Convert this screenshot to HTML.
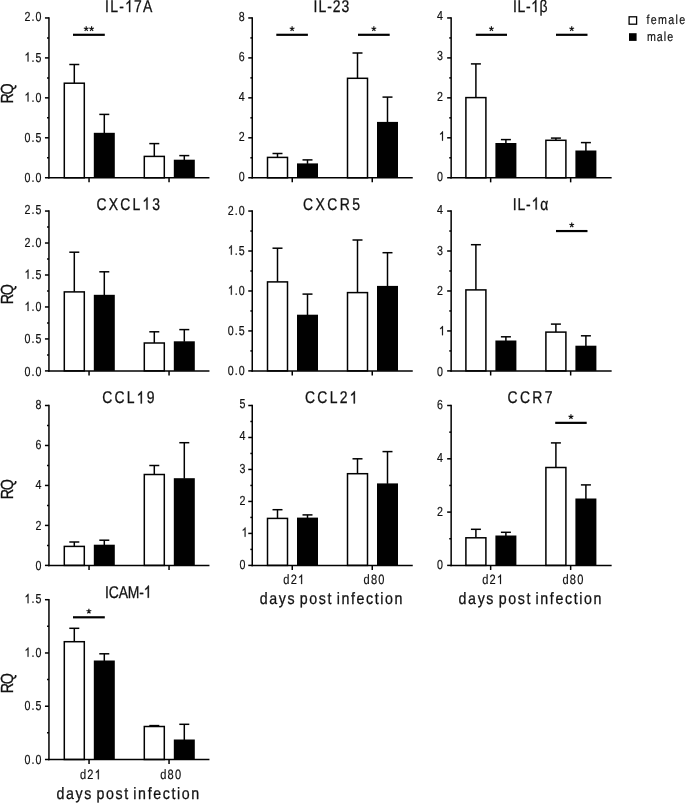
<!DOCTYPE html>
<html><head><meta charset="utf-8"><title>Figure</title>
<style>
html,body{margin:0;padding:0;background:#fff;}
body{width:685px;height:803px;overflow:hidden;}
svg{display:block;font-family:"Liberation Sans",sans-serif;font-kerning:none;text-rendering:geometricPrecision;}
text{stroke:#111;stroke-width:0.2px;}
</style></head><body>
<svg width="685" height="803" viewBox="0 0 685 803">
<rect x="0" y="0" width="685" height="803" fill="#fff"/>
<g style="opacity:0.999">
<line x1="74.30" y1="64.50" x2="74.30" y2="83.20" stroke="#000" stroke-width="1.5"/>
<line x1="69.30" y1="64.50" x2="79.30" y2="64.50" stroke="#000" stroke-width="1.5"/>
<rect x="64.30" y="83.20" width="20.00" height="94.55" fill="#fff" stroke="#000" stroke-width="1.5"/>
<line x1="104.30" y1="114.40" x2="104.30" y2="133.30" stroke="#000" stroke-width="1.5"/>
<line x1="99.30" y1="114.40" x2="109.30" y2="114.40" stroke="#000" stroke-width="1.5"/>
<rect x="93.80" y="132.80" width="21.00" height="44.95" fill="#000"/>
<line x1="154.30" y1="143.60" x2="154.30" y2="156.40" stroke="#000" stroke-width="1.5"/>
<line x1="149.30" y1="143.60" x2="159.30" y2="143.60" stroke="#000" stroke-width="1.5"/>
<rect x="144.30" y="156.40" width="20.00" height="21.35" fill="#fff" stroke="#000" stroke-width="1.5"/>
<line x1="184.30" y1="155.60" x2="184.30" y2="160.20" stroke="#000" stroke-width="1.5"/>
<line x1="179.30" y1="155.60" x2="189.30" y2="155.60" stroke="#000" stroke-width="1.5"/>
<rect x="173.80" y="159.70" width="21.00" height="18.05" fill="#000"/>
<line x1="48.95" y1="17.20" x2="48.95" y2="178.50" stroke="#000" stroke-width="1.5"/>
<line x1="48.20" y1="177.75" x2="209.45" y2="177.75" stroke="#000" stroke-width="1.5"/>
<line x1="89.05" y1="177.75" x2="89.05" y2="182.35" stroke="#000" stroke-width="1.5"/>
<line x1="169.05" y1="177.75" x2="169.05" y2="182.35" stroke="#000" stroke-width="1.5"/>
<line x1="44.95" y1="17.95" x2="48.95" y2="17.95" stroke="#000" stroke-width="1.5"/>
<line x1="47.05" y1="37.92" x2="48.95" y2="37.92" stroke="#000" stroke-width="1.5"/>
<text transform="translate(24.53,21.45) scale(0.82,1)" font-size="13" letter-spacing="1.220" word-spacing="0.000" fill="#111">2.0</text>
<line x1="44.95" y1="57.90" x2="48.95" y2="57.90" stroke="#000" stroke-width="1.5"/>
<line x1="47.05" y1="77.88" x2="48.95" y2="77.88" stroke="#000" stroke-width="1.5"/>
<path transform="translate(24.53,61.53) scale(0.005205,-0.006348)" d="M763 0H583V1147Q518 1085 412.5 1023T223 930V1104Q373 1174.5 485.5 1275T644 1470H763Z" fill="#111" stroke="#111" stroke-width="0.2" vector-effect="non-scaling-stroke"/>
<text transform="translate(31.46,61.53) scale(0.82,1)" font-size="13" letter-spacing="1.220" word-spacing="0.000" fill="#111">.5</text>
<line x1="44.95" y1="97.85" x2="48.95" y2="97.85" stroke="#000" stroke-width="1.5"/>
<line x1="47.05" y1="117.83" x2="48.95" y2="117.83" stroke="#000" stroke-width="1.5"/>
<path transform="translate(24.53,101.60) scale(0.005205,-0.006348)" d="M763 0H583V1147Q518 1085 412.5 1023T223 930V1104Q373 1174.5 485.5 1275T644 1470H763Z" fill="#111" stroke="#111" stroke-width="0.2" vector-effect="non-scaling-stroke"/>
<text transform="translate(31.46,101.60) scale(0.82,1)" font-size="13" letter-spacing="1.220" word-spacing="0.000" fill="#111">.0</text>
<line x1="44.95" y1="137.80" x2="48.95" y2="137.80" stroke="#000" stroke-width="1.5"/>
<line x1="47.05" y1="157.78" x2="48.95" y2="157.78" stroke="#000" stroke-width="1.5"/>
<text transform="translate(24.53,141.68) scale(0.82,1)" font-size="13" letter-spacing="1.220" word-spacing="0.000" fill="#111">0.5</text>
<line x1="44.95" y1="177.75" x2="48.95" y2="177.75" stroke="#000" stroke-width="1.5"/>
<text transform="translate(24.53,181.75) scale(0.82,1)" font-size="13" letter-spacing="1.220" word-spacing="0.000" fill="#111">0.0</text>
<text transform="translate(105.00,12.10) scale(0.82,1)" font-size="17" letter-spacing="1.543" word-spacing="0.000" style="stroke-width:0.3px" fill="#111">IL-</text>
<path transform="translate(125.06,12.10) scale(0.006807,-0.008301)" d="M763 0H583V1147Q518 1085 412.5 1023T223 930V1104Q373 1174.5 485.5 1275T644 1470H763Z" fill="#111" stroke="#111" stroke-width="0.3" vector-effect="non-scaling-stroke"/>
<text transform="translate(134.08,12.10) scale(0.82,1)" font-size="17" letter-spacing="1.543" word-spacing="0.000" style="stroke-width:0.3px" fill="#111">7A</text>
<line x1="73.00" y1="34.80" x2="104.80" y2="34.80" stroke="#000" stroke-width="2.2"/>
<path d="M86.20 28.80L86.20 26.30M86.20 28.80L88.58 28.03M86.20 28.80L87.67 30.82M86.20 28.80L84.73 30.82M86.20 28.80L83.82 28.03" stroke="#111" stroke-width="1.15" fill="none"/>
<path d="M91.60 28.80L91.60 26.30M91.60 28.80L93.98 28.03M91.60 28.80L93.07 30.82M91.60 28.80L90.13 30.82M91.60 28.80L89.22 28.03" stroke="#111" stroke-width="1.15" fill="none"/>
<text transform="translate(13.00,103.60) rotate(-90) scale(0.82,1)" font-size="17.5" letter-spacing="-1.613" style="stroke-width:0.3px" fill="#111">RQ</text>
<line x1="277.50" y1="153.50" x2="277.50" y2="157.40" stroke="#000" stroke-width="1.5"/>
<line x1="272.50" y1="153.50" x2="282.50" y2="153.50" stroke="#000" stroke-width="1.5"/>
<rect x="267.50" y="157.40" width="20.00" height="20.35" fill="#fff" stroke="#000" stroke-width="1.5"/>
<line x1="307.50" y1="159.90" x2="307.50" y2="163.90" stroke="#000" stroke-width="1.5"/>
<line x1="302.50" y1="159.90" x2="312.50" y2="159.90" stroke="#000" stroke-width="1.5"/>
<rect x="297.00" y="163.40" width="21.00" height="14.35" fill="#000"/>
<line x1="357.50" y1="53.00" x2="357.50" y2="78.30" stroke="#000" stroke-width="1.5"/>
<line x1="352.50" y1="53.00" x2="362.50" y2="53.00" stroke="#000" stroke-width="1.5"/>
<rect x="347.50" y="78.30" width="20.00" height="99.45" fill="#fff" stroke="#000" stroke-width="1.5"/>
<line x1="387.50" y1="97.10" x2="387.50" y2="122.40" stroke="#000" stroke-width="1.5"/>
<line x1="382.50" y1="97.10" x2="392.50" y2="97.10" stroke="#000" stroke-width="1.5"/>
<rect x="377.00" y="121.90" width="21.00" height="55.85" fill="#000"/>
<line x1="252.25" y1="17.20" x2="252.25" y2="178.50" stroke="#000" stroke-width="1.5"/>
<line x1="251.50" y1="177.75" x2="412.75" y2="177.75" stroke="#000" stroke-width="1.5"/>
<line x1="292.25" y1="177.75" x2="292.25" y2="182.35" stroke="#000" stroke-width="1.5"/>
<line x1="372.25" y1="177.75" x2="372.25" y2="182.35" stroke="#000" stroke-width="1.5"/>
<line x1="248.25" y1="17.95" x2="252.25" y2="17.95" stroke="#000" stroke-width="1.5"/>
<line x1="250.35" y1="37.92" x2="252.25" y2="37.92" stroke="#000" stroke-width="1.5"/>
<text transform="translate(238.72,21.05) scale(0.82,1)" font-size="13" letter-spacing="0.000" word-spacing="0.000" fill="#111">8</text>
<line x1="248.25" y1="57.90" x2="252.25" y2="57.90" stroke="#000" stroke-width="1.5"/>
<line x1="250.35" y1="77.88" x2="252.25" y2="77.88" stroke="#000" stroke-width="1.5"/>
<text transform="translate(238.72,61.13) scale(0.82,1)" font-size="13" letter-spacing="0.000" word-spacing="0.000" fill="#111">6</text>
<line x1="248.25" y1="97.85" x2="252.25" y2="97.85" stroke="#000" stroke-width="1.5"/>
<line x1="250.35" y1="117.83" x2="252.25" y2="117.83" stroke="#000" stroke-width="1.5"/>
<text transform="translate(238.72,101.20) scale(0.82,1)" font-size="13" letter-spacing="0.000" word-spacing="0.000" fill="#111">4</text>
<line x1="248.25" y1="137.80" x2="252.25" y2="137.80" stroke="#000" stroke-width="1.5"/>
<line x1="250.35" y1="157.78" x2="252.25" y2="157.78" stroke="#000" stroke-width="1.5"/>
<text transform="translate(238.72,141.28) scale(0.82,1)" font-size="13" letter-spacing="0.000" word-spacing="0.000" fill="#111">2</text>
<line x1="248.25" y1="177.75" x2="252.25" y2="177.75" stroke="#000" stroke-width="1.5"/>
<text transform="translate(238.72,181.35) scale(0.82,1)" font-size="13" letter-spacing="0.000" word-spacing="0.000" fill="#111">0</text>
<text transform="translate(313.50,12.10) scale(0.82,1)" font-size="17" letter-spacing="1.228" word-spacing="0.000" style="stroke-width:0.3px" fill="#111">IL-23</text>
<line x1="276.30" y1="34.80" x2="307.90" y2="34.80" stroke="#000" stroke-width="2.2"/>
<path d="M292.10 28.80L292.10 26.30M292.10 28.80L294.48 28.03M292.10 28.80L293.57 30.82M292.10 28.80L290.63 30.82M292.10 28.80L289.72 28.03" stroke="#111" stroke-width="1.15" fill="none"/>
<line x1="358.00" y1="34.80" x2="389.70" y2="34.80" stroke="#000" stroke-width="2.2"/>
<path d="M373.85 28.80L373.85 26.30M373.85 28.80L376.23 28.03M373.85 28.80L375.32 30.82M373.85 28.80L372.38 30.82M373.85 28.80L371.47 28.03" stroke="#111" stroke-width="1.15" fill="none"/>
<line x1="475.90" y1="63.90" x2="475.90" y2="97.60" stroke="#000" stroke-width="1.5"/>
<line x1="470.90" y1="63.90" x2="480.90" y2="63.90" stroke="#000" stroke-width="1.5"/>
<rect x="465.90" y="97.60" width="20.00" height="80.15" fill="#fff" stroke="#000" stroke-width="1.5"/>
<line x1="505.90" y1="139.60" x2="505.90" y2="143.50" stroke="#000" stroke-width="1.5"/>
<line x1="500.90" y1="139.60" x2="510.90" y2="139.60" stroke="#000" stroke-width="1.5"/>
<rect x="495.40" y="143.00" width="21.00" height="34.75" fill="#000"/>
<line x1="555.90" y1="138.10" x2="555.90" y2="140.30" stroke="#000" stroke-width="1.5"/>
<line x1="550.90" y1="138.10" x2="560.90" y2="138.10" stroke="#000" stroke-width="1.5"/>
<rect x="545.90" y="140.30" width="20.00" height="37.45" fill="#fff" stroke="#000" stroke-width="1.5"/>
<line x1="585.90" y1="142.60" x2="585.90" y2="151.00" stroke="#000" stroke-width="1.5"/>
<line x1="580.90" y1="142.60" x2="590.90" y2="142.60" stroke="#000" stroke-width="1.5"/>
<rect x="575.40" y="150.50" width="21.00" height="27.25" fill="#000"/>
<line x1="451.15" y1="17.20" x2="451.15" y2="178.50" stroke="#000" stroke-width="1.5"/>
<line x1="450.40" y1="177.75" x2="611.65" y2="177.75" stroke="#000" stroke-width="1.5"/>
<line x1="490.65" y1="177.75" x2="490.65" y2="182.35" stroke="#000" stroke-width="1.5"/>
<line x1="570.65" y1="177.75" x2="570.65" y2="182.35" stroke="#000" stroke-width="1.5"/>
<line x1="447.15" y1="17.95" x2="451.15" y2="17.95" stroke="#000" stroke-width="1.5"/>
<line x1="449.25" y1="37.92" x2="451.15" y2="37.92" stroke="#000" stroke-width="1.5"/>
<text transform="translate(437.02,20.15) scale(0.82,1)" font-size="13" letter-spacing="0.000" word-spacing="0.000" fill="#111">4</text>
<line x1="447.15" y1="57.90" x2="451.15" y2="57.90" stroke="#000" stroke-width="1.5"/>
<line x1="449.25" y1="77.88" x2="451.15" y2="77.88" stroke="#000" stroke-width="1.5"/>
<text transform="translate(437.02,60.33) scale(0.82,1)" font-size="13" letter-spacing="0.000" word-spacing="0.000" fill="#111">3</text>
<line x1="447.15" y1="97.85" x2="451.15" y2="97.85" stroke="#000" stroke-width="1.5"/>
<line x1="449.25" y1="117.83" x2="451.15" y2="117.83" stroke="#000" stroke-width="1.5"/>
<text transform="translate(437.02,100.50) scale(0.82,1)" font-size="13" letter-spacing="0.000" word-spacing="0.000" fill="#111">2</text>
<line x1="447.15" y1="137.80" x2="451.15" y2="137.80" stroke="#000" stroke-width="1.5"/>
<line x1="449.25" y1="157.78" x2="451.15" y2="157.78" stroke="#000" stroke-width="1.5"/>
<path transform="translate(438.98,140.68) scale(0.005205,-0.006348)" d="M763 0H583V1147Q518 1085 412.5 1023T223 930V1104Q373 1174.5 485.5 1275T644 1470H763Z" fill="#111" stroke="#111" stroke-width="0.2" vector-effect="non-scaling-stroke"/>
<line x1="447.15" y1="177.75" x2="451.15" y2="177.75" stroke="#000" stroke-width="1.5"/>
<text transform="translate(437.02,180.85) scale(0.82,1)" font-size="13" letter-spacing="0.000" word-spacing="0.000" fill="#111">0</text>
<text transform="translate(513.10,12.10) scale(0.82,1)" font-size="17" letter-spacing="0.719" word-spacing="0.000" style="stroke-width:0.3px" fill="#111">IL-</text>
<path transform="translate(531.14,12.10) scale(0.006807,-0.008301)" d="M763 0H583V1147Q518 1085 412.5 1023T223 930V1104Q373 1174.5 485.5 1275T644 1470H763Z" fill="#111" stroke="#111" stroke-width="0.3" vector-effect="non-scaling-stroke"/>
<text transform="translate(539.48,12.10) scale(0.82,1)" font-size="17" letter-spacing="0.719" word-spacing="0.000" style="stroke-width:0.3px" fill="#111">β</text>
<line x1="475.80" y1="34.80" x2="507.00" y2="34.80" stroke="#000" stroke-width="2.2"/>
<path d="M491.40 28.80L491.40 26.30M491.40 28.80L493.78 28.03M491.40 28.80L492.87 30.82M491.40 28.80L489.93 30.82M491.40 28.80L489.02 28.03" stroke="#111" stroke-width="1.15" fill="none"/>
<line x1="556.00" y1="34.80" x2="587.50" y2="34.80" stroke="#000" stroke-width="2.2"/>
<path d="M571.75 28.80L571.75 26.30M571.75 28.80L574.13 28.03M571.75 28.80L573.22 30.82M571.75 28.80L570.28 30.82M571.75 28.80L569.37 28.03" stroke="#111" stroke-width="1.15" fill="none"/>
<line x1="74.30" y1="252.20" x2="74.30" y2="291.90" stroke="#000" stroke-width="1.5"/>
<line x1="69.30" y1="252.20" x2="79.30" y2="252.20" stroke="#000" stroke-width="1.5"/>
<rect x="64.30" y="291.90" width="20.00" height="79.00" fill="#fff" stroke="#000" stroke-width="1.5"/>
<line x1="104.30" y1="271.80" x2="104.30" y2="295.30" stroke="#000" stroke-width="1.5"/>
<line x1="99.30" y1="271.80" x2="109.30" y2="271.80" stroke="#000" stroke-width="1.5"/>
<rect x="93.80" y="294.80" width="21.00" height="76.10" fill="#000"/>
<line x1="154.30" y1="331.80" x2="154.30" y2="343.00" stroke="#000" stroke-width="1.5"/>
<line x1="149.30" y1="331.80" x2="159.30" y2="331.80" stroke="#000" stroke-width="1.5"/>
<rect x="144.30" y="343.00" width="20.00" height="27.90" fill="#fff" stroke="#000" stroke-width="1.5"/>
<line x1="184.30" y1="329.60" x2="184.30" y2="341.80" stroke="#000" stroke-width="1.5"/>
<line x1="179.30" y1="329.60" x2="189.30" y2="329.60" stroke="#000" stroke-width="1.5"/>
<rect x="173.80" y="341.30" width="21.00" height="29.60" fill="#000"/>
<line x1="48.95" y1="210.30" x2="48.95" y2="371.65" stroke="#000" stroke-width="1.5"/>
<line x1="48.20" y1="370.90" x2="209.45" y2="370.90" stroke="#000" stroke-width="1.5"/>
<line x1="89.05" y1="370.90" x2="89.05" y2="375.50" stroke="#000" stroke-width="1.5"/>
<line x1="169.05" y1="370.90" x2="169.05" y2="375.50" stroke="#000" stroke-width="1.5"/>
<line x1="44.95" y1="211.05" x2="48.95" y2="211.05" stroke="#000" stroke-width="1.5"/>
<line x1="47.05" y1="227.03" x2="48.95" y2="227.03" stroke="#000" stroke-width="1.5"/>
<text transform="translate(24.53,214.25) scale(0.82,1)" font-size="13" letter-spacing="1.220" word-spacing="0.000" fill="#111">2.5</text>
<line x1="44.95" y1="243.02" x2="48.95" y2="243.02" stroke="#000" stroke-width="1.5"/>
<line x1="47.05" y1="259.00" x2="48.95" y2="259.00" stroke="#000" stroke-width="1.5"/>
<text transform="translate(24.53,246.50) scale(0.82,1)" font-size="13" letter-spacing="1.220" word-spacing="0.000" fill="#111">2.0</text>
<line x1="44.95" y1="274.99" x2="48.95" y2="274.99" stroke="#000" stroke-width="1.5"/>
<line x1="47.05" y1="290.98" x2="48.95" y2="290.98" stroke="#000" stroke-width="1.5"/>
<path transform="translate(24.53,278.75) scale(0.005205,-0.006348)" d="M763 0H583V1147Q518 1085 412.5 1023T223 930V1104Q373 1174.5 485.5 1275T644 1470H763Z" fill="#111" stroke="#111" stroke-width="0.2" vector-effect="non-scaling-stroke"/>
<text transform="translate(31.46,278.75) scale(0.82,1)" font-size="13" letter-spacing="1.220" word-spacing="0.000" fill="#111">.5</text>
<line x1="44.95" y1="306.96" x2="48.95" y2="306.96" stroke="#000" stroke-width="1.5"/>
<line x1="47.05" y1="322.94" x2="48.95" y2="322.94" stroke="#000" stroke-width="1.5"/>
<path transform="translate(24.53,311.00) scale(0.005205,-0.006348)" d="M763 0H583V1147Q518 1085 412.5 1023T223 930V1104Q373 1174.5 485.5 1275T644 1470H763Z" fill="#111" stroke="#111" stroke-width="0.2" vector-effect="non-scaling-stroke"/>
<text transform="translate(31.46,311.00) scale(0.82,1)" font-size="13" letter-spacing="1.220" word-spacing="0.000" fill="#111">.0</text>
<line x1="44.95" y1="338.93" x2="48.95" y2="338.93" stroke="#000" stroke-width="1.5"/>
<line x1="47.05" y1="354.91" x2="48.95" y2="354.91" stroke="#000" stroke-width="1.5"/>
<text transform="translate(24.53,343.25) scale(0.82,1)" font-size="13" letter-spacing="1.220" word-spacing="0.000" fill="#111">0.5</text>
<line x1="44.95" y1="370.90" x2="48.95" y2="370.90" stroke="#000" stroke-width="1.5"/>
<text transform="translate(24.53,375.50) scale(0.82,1)" font-size="13" letter-spacing="1.220" word-spacing="0.000" fill="#111">0.0</text>
<text transform="translate(96.40,209.60) scale(0.82,1)" font-size="17" letter-spacing="2.686" word-spacing="0.000" style="stroke-width:0.3px" fill="#111">CXCL</text>
<path transform="translate(142.39,209.60) scale(0.006807,-0.008301)" d="M763 0H583V1147Q518 1085 412.5 1023T223 930V1104Q373 1174.5 485.5 1275T644 1470H763Z" fill="#111" stroke="#111" stroke-width="0.3" vector-effect="non-scaling-stroke"/>
<text transform="translate(152.35,209.60) scale(0.82,1)" font-size="17" letter-spacing="2.686" word-spacing="0.000" style="stroke-width:0.3px" fill="#111">3</text>
<text transform="translate(13.00,304.30) rotate(-90) scale(0.82,1)" font-size="17.5" letter-spacing="-1.613" style="stroke-width:0.3px" fill="#111">RQ</text>
<line x1="277.50" y1="248.20" x2="277.50" y2="281.90" stroke="#000" stroke-width="1.5"/>
<line x1="272.50" y1="248.20" x2="282.50" y2="248.20" stroke="#000" stroke-width="1.5"/>
<rect x="267.50" y="281.90" width="20.00" height="89.00" fill="#fff" stroke="#000" stroke-width="1.5"/>
<line x1="307.50" y1="294.10" x2="307.50" y2="315.20" stroke="#000" stroke-width="1.5"/>
<line x1="302.50" y1="294.10" x2="312.50" y2="294.10" stroke="#000" stroke-width="1.5"/>
<rect x="297.00" y="314.70" width="21.00" height="56.20" fill="#000"/>
<line x1="357.50" y1="240.00" x2="357.50" y2="292.60" stroke="#000" stroke-width="1.5"/>
<line x1="352.50" y1="240.00" x2="362.50" y2="240.00" stroke="#000" stroke-width="1.5"/>
<rect x="347.50" y="292.60" width="20.00" height="78.30" fill="#fff" stroke="#000" stroke-width="1.5"/>
<line x1="387.50" y1="252.70" x2="387.50" y2="286.40" stroke="#000" stroke-width="1.5"/>
<line x1="382.50" y1="252.70" x2="392.50" y2="252.70" stroke="#000" stroke-width="1.5"/>
<rect x="377.00" y="285.90" width="21.00" height="85.00" fill="#000"/>
<line x1="252.25" y1="210.30" x2="252.25" y2="371.65" stroke="#000" stroke-width="1.5"/>
<line x1="251.50" y1="370.90" x2="412.75" y2="370.90" stroke="#000" stroke-width="1.5"/>
<line x1="292.25" y1="370.90" x2="292.25" y2="375.50" stroke="#000" stroke-width="1.5"/>
<line x1="372.25" y1="370.90" x2="372.25" y2="375.50" stroke="#000" stroke-width="1.5"/>
<line x1="248.25" y1="211.05" x2="252.25" y2="211.05" stroke="#000" stroke-width="1.5"/>
<line x1="250.35" y1="231.03" x2="252.25" y2="231.03" stroke="#000" stroke-width="1.5"/>
<text transform="translate(227.83,214.55) scale(0.82,1)" font-size="13" letter-spacing="1.220" word-spacing="0.000" fill="#111">2.0</text>
<line x1="248.25" y1="251.01" x2="252.25" y2="251.01" stroke="#000" stroke-width="1.5"/>
<line x1="250.35" y1="270.99" x2="252.25" y2="270.99" stroke="#000" stroke-width="1.5"/>
<path transform="translate(227.83,254.64) scale(0.005205,-0.006348)" d="M763 0H583V1147Q518 1085 412.5 1023T223 930V1104Q373 1174.5 485.5 1275T644 1470H763Z" fill="#111" stroke="#111" stroke-width="0.2" vector-effect="non-scaling-stroke"/>
<text transform="translate(234.76,254.64) scale(0.82,1)" font-size="13" letter-spacing="1.220" word-spacing="0.000" fill="#111">.5</text>
<line x1="248.25" y1="290.98" x2="252.25" y2="290.98" stroke="#000" stroke-width="1.5"/>
<line x1="250.35" y1="310.96" x2="252.25" y2="310.96" stroke="#000" stroke-width="1.5"/>
<path transform="translate(227.83,294.73) scale(0.005205,-0.006348)" d="M763 0H583V1147Q518 1085 412.5 1023T223 930V1104Q373 1174.5 485.5 1275T644 1470H763Z" fill="#111" stroke="#111" stroke-width="0.2" vector-effect="non-scaling-stroke"/>
<text transform="translate(234.76,294.73) scale(0.82,1)" font-size="13" letter-spacing="1.220" word-spacing="0.000" fill="#111">.0</text>
<line x1="248.25" y1="330.94" x2="252.25" y2="330.94" stroke="#000" stroke-width="1.5"/>
<line x1="250.35" y1="350.92" x2="252.25" y2="350.92" stroke="#000" stroke-width="1.5"/>
<text transform="translate(227.83,334.81) scale(0.82,1)" font-size="13" letter-spacing="1.220" word-spacing="0.000" fill="#111">0.5</text>
<line x1="248.25" y1="370.90" x2="252.25" y2="370.90" stroke="#000" stroke-width="1.5"/>
<text transform="translate(227.83,374.90) scale(0.82,1)" font-size="13" letter-spacing="1.220" word-spacing="0.000" fill="#111">0.0</text>
<text transform="translate(302.90,209.60) scale(0.82,1)" font-size="17" letter-spacing="3.033" word-spacing="0.000" style="stroke-width:0.3px" fill="#111">CXCR5</text>
<line x1="475.90" y1="244.70" x2="475.90" y2="289.90" stroke="#000" stroke-width="1.5"/>
<line x1="470.90" y1="244.70" x2="480.90" y2="244.70" stroke="#000" stroke-width="1.5"/>
<rect x="465.90" y="289.90" width="20.00" height="81.00" fill="#fff" stroke="#000" stroke-width="1.5"/>
<line x1="505.90" y1="336.80" x2="505.90" y2="341.00" stroke="#000" stroke-width="1.5"/>
<line x1="500.90" y1="336.80" x2="510.90" y2="336.80" stroke="#000" stroke-width="1.5"/>
<rect x="495.40" y="340.50" width="21.00" height="30.40" fill="#000"/>
<line x1="555.90" y1="324.10" x2="555.90" y2="332.10" stroke="#000" stroke-width="1.5"/>
<line x1="550.90" y1="324.10" x2="560.90" y2="324.10" stroke="#000" stroke-width="1.5"/>
<rect x="545.90" y="332.10" width="20.00" height="38.80" fill="#fff" stroke="#000" stroke-width="1.5"/>
<line x1="585.90" y1="335.80" x2="585.90" y2="346.20" stroke="#000" stroke-width="1.5"/>
<line x1="580.90" y1="335.80" x2="590.90" y2="335.80" stroke="#000" stroke-width="1.5"/>
<rect x="575.40" y="345.70" width="21.00" height="25.20" fill="#000"/>
<line x1="451.15" y1="210.30" x2="451.15" y2="371.65" stroke="#000" stroke-width="1.5"/>
<line x1="450.40" y1="370.90" x2="611.65" y2="370.90" stroke="#000" stroke-width="1.5"/>
<line x1="490.65" y1="370.90" x2="490.65" y2="375.50" stroke="#000" stroke-width="1.5"/>
<line x1="570.65" y1="370.90" x2="570.65" y2="375.50" stroke="#000" stroke-width="1.5"/>
<line x1="447.15" y1="211.05" x2="451.15" y2="211.05" stroke="#000" stroke-width="1.5"/>
<line x1="449.25" y1="231.03" x2="451.15" y2="231.03" stroke="#000" stroke-width="1.5"/>
<text transform="translate(437.02,214.35) scale(0.82,1)" font-size="13" letter-spacing="0.000" word-spacing="0.000" fill="#111">4</text>
<line x1="447.15" y1="251.01" x2="451.15" y2="251.01" stroke="#000" stroke-width="1.5"/>
<line x1="449.25" y1="270.99" x2="451.15" y2="270.99" stroke="#000" stroke-width="1.5"/>
<text transform="translate(437.02,254.64) scale(0.82,1)" font-size="13" letter-spacing="0.000" word-spacing="0.000" fill="#111">3</text>
<line x1="447.15" y1="290.98" x2="451.15" y2="290.98" stroke="#000" stroke-width="1.5"/>
<line x1="449.25" y1="310.96" x2="451.15" y2="310.96" stroke="#000" stroke-width="1.5"/>
<text transform="translate(437.02,294.93) scale(0.82,1)" font-size="13" letter-spacing="0.000" word-spacing="0.000" fill="#111">2</text>
<line x1="447.15" y1="330.94" x2="451.15" y2="330.94" stroke="#000" stroke-width="1.5"/>
<line x1="449.25" y1="350.92" x2="451.15" y2="350.92" stroke="#000" stroke-width="1.5"/>
<path transform="translate(438.98,335.21) scale(0.005205,-0.006348)" d="M763 0H583V1147Q518 1085 412.5 1023T223 930V1104Q373 1174.5 485.5 1275T644 1470H763Z" fill="#111" stroke="#111" stroke-width="0.2" vector-effect="non-scaling-stroke"/>
<line x1="447.15" y1="370.90" x2="451.15" y2="370.90" stroke="#000" stroke-width="1.5"/>
<text transform="translate(437.02,375.50) scale(0.82,1)" font-size="13" letter-spacing="0.000" word-spacing="0.000" fill="#111">0</text>
<text transform="translate(512.70,209.60) scale(0.82,1)" font-size="17" letter-spacing="1.073" word-spacing="0.000" style="stroke-width:0.3px" fill="#111">IL-</text>
<path transform="translate(531.61,209.60) scale(0.006807,-0.008301)" d="M763 0H583V1147Q518 1085 412.5 1023T223 930V1104Q373 1174.5 485.5 1275T644 1470H763Z" fill="#111" stroke="#111" stroke-width="0.3" vector-effect="non-scaling-stroke"/>
<text transform="translate(540.24,209.60) scale(0.82,1)" font-size="17" letter-spacing="1.073" word-spacing="0.000" style="stroke-width:0.3px" fill="#111">α</text>
<line x1="556.00" y1="231.05" x2="587.50" y2="231.05" stroke="#000" stroke-width="2.2"/>
<path d="M571.75 225.05L571.75 222.55M571.75 225.05L574.13 224.28M571.75 225.05L573.22 227.07M571.75 225.05L570.28 227.07M571.75 225.05L569.37 224.28" stroke="#111" stroke-width="1.15" fill="none"/>
<line x1="74.30" y1="542.00" x2="74.30" y2="546.40" stroke="#000" stroke-width="1.5"/>
<line x1="69.30" y1="542.00" x2="79.30" y2="542.00" stroke="#000" stroke-width="1.5"/>
<rect x="64.30" y="546.40" width="20.00" height="19.00" fill="#fff" stroke="#000" stroke-width="1.5"/>
<line x1="104.30" y1="540.20" x2="104.30" y2="545.20" stroke="#000" stroke-width="1.5"/>
<line x1="99.30" y1="540.20" x2="109.30" y2="540.20" stroke="#000" stroke-width="1.5"/>
<rect x="93.80" y="544.70" width="21.00" height="20.70" fill="#000"/>
<line x1="154.30" y1="465.50" x2="154.30" y2="474.50" stroke="#000" stroke-width="1.5"/>
<line x1="149.30" y1="465.50" x2="159.30" y2="465.50" stroke="#000" stroke-width="1.5"/>
<rect x="144.30" y="474.50" width="20.00" height="90.90" fill="#fff" stroke="#000" stroke-width="1.5"/>
<line x1="184.30" y1="442.70" x2="184.30" y2="478.70" stroke="#000" stroke-width="1.5"/>
<line x1="179.30" y1="442.70" x2="189.30" y2="442.70" stroke="#000" stroke-width="1.5"/>
<rect x="173.80" y="478.20" width="21.00" height="87.20" fill="#000"/>
<line x1="48.95" y1="404.75" x2="48.95" y2="566.15" stroke="#000" stroke-width="1.5"/>
<line x1="48.20" y1="565.40" x2="209.45" y2="565.40" stroke="#000" stroke-width="1.5"/>
<line x1="89.05" y1="565.40" x2="89.05" y2="570.00" stroke="#000" stroke-width="1.5"/>
<line x1="169.05" y1="565.40" x2="169.05" y2="570.00" stroke="#000" stroke-width="1.5"/>
<line x1="44.95" y1="405.50" x2="48.95" y2="405.50" stroke="#000" stroke-width="1.5"/>
<line x1="47.05" y1="425.49" x2="48.95" y2="425.49" stroke="#000" stroke-width="1.5"/>
<text transform="translate(35.42,409.20) scale(0.82,1)" font-size="13" letter-spacing="0.000" word-spacing="0.000" fill="#111">8</text>
<line x1="44.95" y1="445.48" x2="48.95" y2="445.48" stroke="#000" stroke-width="1.5"/>
<line x1="47.05" y1="465.46" x2="48.95" y2="465.46" stroke="#000" stroke-width="1.5"/>
<text transform="translate(35.42,449.32) scale(0.82,1)" font-size="13" letter-spacing="0.000" word-spacing="0.000" fill="#111">6</text>
<line x1="44.95" y1="485.45" x2="48.95" y2="485.45" stroke="#000" stroke-width="1.5"/>
<line x1="47.05" y1="505.44" x2="48.95" y2="505.44" stroke="#000" stroke-width="1.5"/>
<text transform="translate(35.42,489.45) scale(0.82,1)" font-size="13" letter-spacing="0.000" word-spacing="0.000" fill="#111">4</text>
<line x1="44.95" y1="525.42" x2="48.95" y2="525.42" stroke="#000" stroke-width="1.5"/>
<line x1="47.05" y1="545.41" x2="48.95" y2="545.41" stroke="#000" stroke-width="1.5"/>
<text transform="translate(35.42,529.58) scale(0.82,1)" font-size="13" letter-spacing="0.000" word-spacing="0.000" fill="#111">2</text>
<line x1="44.95" y1="565.40" x2="48.95" y2="565.40" stroke="#000" stroke-width="1.5"/>
<text transform="translate(35.42,569.70) scale(0.82,1)" font-size="13" letter-spacing="0.000" word-spacing="0.000" fill="#111">0</text>
<text transform="translate(102.30,403.40) scale(0.82,1)" font-size="17" letter-spacing="2.655" word-spacing="0.000" style="stroke-width:0.3px" fill="#111">CCL</text>
<path transform="translate(136.72,403.40) scale(0.006807,-0.008301)" d="M763 0H583V1147Q518 1085 412.5 1023T223 930V1104Q373 1174.5 485.5 1275T644 1470H763Z" fill="#111" stroke="#111" stroke-width="0.3" vector-effect="non-scaling-stroke"/>
<text transform="translate(146.65,403.40) scale(0.82,1)" font-size="17" letter-spacing="2.655" word-spacing="0.000" style="stroke-width:0.3px" fill="#111">9</text>
<text transform="translate(13.00,499.30) rotate(-90) scale(0.82,1)" font-size="17.5" letter-spacing="-1.613" style="stroke-width:0.3px" fill="#111">RQ</text>
<line x1="277.50" y1="509.70" x2="277.50" y2="518.40" stroke="#000" stroke-width="1.5"/>
<line x1="272.50" y1="509.70" x2="282.50" y2="509.70" stroke="#000" stroke-width="1.5"/>
<rect x="267.50" y="518.40" width="20.00" height="47.00" fill="#fff" stroke="#000" stroke-width="1.5"/>
<line x1="307.50" y1="514.90" x2="307.50" y2="518.10" stroke="#000" stroke-width="1.5"/>
<line x1="302.50" y1="514.90" x2="312.50" y2="514.90" stroke="#000" stroke-width="1.5"/>
<rect x="297.00" y="517.60" width="21.00" height="47.80" fill="#000"/>
<line x1="357.50" y1="458.80" x2="357.50" y2="473.70" stroke="#000" stroke-width="1.5"/>
<line x1="352.50" y1="458.80" x2="362.50" y2="458.80" stroke="#000" stroke-width="1.5"/>
<rect x="347.50" y="473.70" width="20.00" height="91.70" fill="#fff" stroke="#000" stroke-width="1.5"/>
<line x1="387.50" y1="451.60" x2="387.50" y2="483.90" stroke="#000" stroke-width="1.5"/>
<line x1="382.50" y1="451.60" x2="392.50" y2="451.60" stroke="#000" stroke-width="1.5"/>
<rect x="377.00" y="483.40" width="21.00" height="82.00" fill="#000"/>
<line x1="252.25" y1="404.75" x2="252.25" y2="566.15" stroke="#000" stroke-width="1.5"/>
<line x1="251.50" y1="565.40" x2="412.75" y2="565.40" stroke="#000" stroke-width="1.5"/>
<line x1="292.25" y1="565.40" x2="292.25" y2="570.00" stroke="#000" stroke-width="1.5"/>
<line x1="372.25" y1="565.40" x2="372.25" y2="570.00" stroke="#000" stroke-width="1.5"/>
<line x1="248.25" y1="405.50" x2="252.25" y2="405.50" stroke="#000" stroke-width="1.5"/>
<line x1="250.35" y1="421.49" x2="252.25" y2="421.49" stroke="#000" stroke-width="1.5"/>
<text transform="translate(239.62,408.40) scale(0.82,1)" font-size="13" letter-spacing="0.000" word-spacing="0.000" fill="#111">5</text>
<line x1="248.25" y1="437.48" x2="252.25" y2="437.48" stroke="#000" stroke-width="1.5"/>
<line x1="250.35" y1="453.47" x2="252.25" y2="453.47" stroke="#000" stroke-width="1.5"/>
<text transform="translate(239.62,440.48) scale(0.82,1)" font-size="13" letter-spacing="0.000" word-spacing="0.000" fill="#111">4</text>
<line x1="248.25" y1="469.46" x2="252.25" y2="469.46" stroke="#000" stroke-width="1.5"/>
<line x1="250.35" y1="485.45" x2="252.25" y2="485.45" stroke="#000" stroke-width="1.5"/>
<text transform="translate(239.62,472.56) scale(0.82,1)" font-size="13" letter-spacing="0.000" word-spacing="0.000" fill="#111">3</text>
<line x1="248.25" y1="501.44" x2="252.25" y2="501.44" stroke="#000" stroke-width="1.5"/>
<line x1="250.35" y1="517.43" x2="252.25" y2="517.43" stroke="#000" stroke-width="1.5"/>
<text transform="translate(239.62,504.64) scale(0.82,1)" font-size="13" letter-spacing="0.000" word-spacing="0.000" fill="#111">2</text>
<line x1="248.25" y1="533.42" x2="252.25" y2="533.42" stroke="#000" stroke-width="1.5"/>
<line x1="250.35" y1="549.41" x2="252.25" y2="549.41" stroke="#000" stroke-width="1.5"/>
<path transform="translate(241.58,536.72) scale(0.005205,-0.006348)" d="M763 0H583V1147Q518 1085 412.5 1023T223 930V1104Q373 1174.5 485.5 1275T644 1470H763Z" fill="#111" stroke="#111" stroke-width="0.2" vector-effect="non-scaling-stroke"/>
<line x1="248.25" y1="565.40" x2="252.25" y2="565.40" stroke="#000" stroke-width="1.5"/>
<text transform="translate(239.62,568.80) scale(0.82,1)" font-size="13" letter-spacing="0.000" word-spacing="0.000" fill="#111">0</text>
<text transform="translate(305.00,403.40) scale(0.82,1)" font-size="17" letter-spacing="2.764" word-spacing="0.000" style="stroke-width:0.3px" fill="#111">CCL2</text>
<path transform="translate(349.71,403.40) scale(0.006807,-0.008301)" d="M763 0H583V1147Q518 1085 412.5 1023T223 930V1104Q373 1174.5 485.5 1275T644 1470H763Z" fill="#111" stroke="#111" stroke-width="0.3" vector-effect="non-scaling-stroke"/>
<text transform="translate(283.30,584.10) scale(0.82,1)" font-size="13.5" letter-spacing="1.441" word-spacing="0.000" fill="#111">d2</text>
<path transform="translate(297.98,584.10) scale(0.005405,-0.006592)" d="M763 0H583V1147Q518 1085 412.5 1023T223 930V1104Q373 1174.5 485.5 1275T644 1470H763Z" fill="#111" stroke="#111" stroke-width="0.2" vector-effect="non-scaling-stroke"/>
<text transform="translate(363.50,584.10) scale(0.82,1)" font-size="13.5" letter-spacing="1.539" word-spacing="0.000" fill="#111">d80</text>
<text transform="translate(259.70,603.60) scale(0.86,1)" font-size="16.5" letter-spacing="1.891" word-spacing="-2.326" style="stroke-width:0.3px" fill="#111">days post infection</text>
<line x1="475.90" y1="529.30" x2="475.90" y2="537.80" stroke="#000" stroke-width="1.5"/>
<line x1="470.90" y1="529.30" x2="480.90" y2="529.30" stroke="#000" stroke-width="1.5"/>
<rect x="465.90" y="537.80" width="20.00" height="27.60" fill="#fff" stroke="#000" stroke-width="1.5"/>
<line x1="505.90" y1="532.30" x2="505.90" y2="536.00" stroke="#000" stroke-width="1.5"/>
<line x1="500.90" y1="532.30" x2="510.90" y2="532.30" stroke="#000" stroke-width="1.5"/>
<rect x="495.40" y="535.50" width="21.00" height="29.90" fill="#000"/>
<line x1="555.90" y1="442.90" x2="555.90" y2="467.50" stroke="#000" stroke-width="1.5"/>
<line x1="550.90" y1="442.90" x2="560.90" y2="442.90" stroke="#000" stroke-width="1.5"/>
<rect x="545.90" y="467.50" width="20.00" height="97.90" fill="#fff" stroke="#000" stroke-width="1.5"/>
<line x1="585.90" y1="484.90" x2="585.90" y2="499.00" stroke="#000" stroke-width="1.5"/>
<line x1="580.90" y1="484.90" x2="590.90" y2="484.90" stroke="#000" stroke-width="1.5"/>
<rect x="575.40" y="498.50" width="21.00" height="66.90" fill="#000"/>
<line x1="451.15" y1="404.75" x2="451.15" y2="566.15" stroke="#000" stroke-width="1.5"/>
<line x1="450.40" y1="565.40" x2="611.65" y2="565.40" stroke="#000" stroke-width="1.5"/>
<line x1="490.65" y1="565.40" x2="490.65" y2="570.00" stroke="#000" stroke-width="1.5"/>
<line x1="570.65" y1="565.40" x2="570.65" y2="570.00" stroke="#000" stroke-width="1.5"/>
<line x1="447.15" y1="405.50" x2="451.15" y2="405.50" stroke="#000" stroke-width="1.5"/>
<line x1="449.25" y1="432.15" x2="451.15" y2="432.15" stroke="#000" stroke-width="1.5"/>
<text transform="translate(437.02,408.70) scale(0.82,1)" font-size="13" letter-spacing="0.000" word-spacing="0.000" fill="#111">6</text>
<line x1="447.15" y1="458.80" x2="451.15" y2="458.80" stroke="#000" stroke-width="1.5"/>
<line x1="449.25" y1="485.45" x2="451.15" y2="485.45" stroke="#000" stroke-width="1.5"/>
<text transform="translate(437.02,462.20) scale(0.82,1)" font-size="13" letter-spacing="0.000" word-spacing="0.000" fill="#111">4</text>
<line x1="447.15" y1="512.10" x2="451.15" y2="512.10" stroke="#000" stroke-width="1.5"/>
<line x1="449.25" y1="538.75" x2="451.15" y2="538.75" stroke="#000" stroke-width="1.5"/>
<text transform="translate(437.02,515.70) scale(0.82,1)" font-size="13" letter-spacing="0.000" word-spacing="0.000" fill="#111">2</text>
<line x1="447.15" y1="565.40" x2="451.15" y2="565.40" stroke="#000" stroke-width="1.5"/>
<text transform="translate(437.02,569.20) scale(0.82,1)" font-size="13" letter-spacing="0.000" word-spacing="0.000" fill="#111">0</text>
<text transform="translate(507.60,403.40) scale(0.82,1)" font-size="17" letter-spacing="2.783" word-spacing="0.000" style="stroke-width:0.3px" fill="#111">CCR7</text>
<line x1="555.20" y1="422.85" x2="586.70" y2="422.85" stroke="#000" stroke-width="2.2"/>
<path d="M570.95 416.85L570.95 414.35M570.95 416.85L573.33 416.08M570.95 416.85L572.42 418.87M570.95 416.85L569.48 418.87M570.95 416.85L568.57 416.08" stroke="#111" stroke-width="1.15" fill="none"/>
<text transform="translate(482.20,584.10) scale(0.82,1)" font-size="13.5" letter-spacing="1.441" word-spacing="0.000" fill="#111">d2</text>
<path transform="translate(496.88,584.10) scale(0.005405,-0.006592)" d="M763 0H583V1147Q518 1085 412.5 1023T223 930V1104Q373 1174.5 485.5 1275T644 1470H763Z" fill="#111" stroke="#111" stroke-width="0.2" vector-effect="non-scaling-stroke"/>
<text transform="translate(562.40,584.10) scale(0.82,1)" font-size="13.5" letter-spacing="1.539" word-spacing="0.000" fill="#111">d80</text>
<text transform="translate(458.60,603.60) scale(0.86,1)" font-size="16.5" letter-spacing="1.891" word-spacing="-2.326" style="stroke-width:0.3px" fill="#111">days post infection</text>
<line x1="74.30" y1="628.30" x2="74.30" y2="641.70" stroke="#000" stroke-width="1.5"/>
<line x1="69.30" y1="628.30" x2="79.30" y2="628.30" stroke="#000" stroke-width="1.5"/>
<rect x="64.30" y="641.70" width="20.00" height="117.80" fill="#fff" stroke="#000" stroke-width="1.5"/>
<line x1="104.30" y1="653.80" x2="104.30" y2="661.00" stroke="#000" stroke-width="1.5"/>
<line x1="99.30" y1="653.80" x2="109.30" y2="653.80" stroke="#000" stroke-width="1.5"/>
<rect x="93.80" y="660.50" width="21.00" height="99.00" fill="#000"/>
<line x1="154.30" y1="725.60" x2="154.30" y2="726.50" stroke="#000" stroke-width="1.5"/>
<line x1="149.30" y1="725.60" x2="159.30" y2="725.60" stroke="#000" stroke-width="1.5"/>
<rect x="144.30" y="726.50" width="20.00" height="33.00" fill="#fff" stroke="#000" stroke-width="1.5"/>
<line x1="184.30" y1="724.30" x2="184.30" y2="740.00" stroke="#000" stroke-width="1.5"/>
<line x1="179.30" y1="724.30" x2="189.30" y2="724.30" stroke="#000" stroke-width="1.5"/>
<rect x="173.80" y="739.50" width="21.00" height="20.00" fill="#000"/>
<line x1="48.95" y1="598.95" x2="48.95" y2="760.25" stroke="#000" stroke-width="1.5"/>
<line x1="48.20" y1="759.50" x2="209.45" y2="759.50" stroke="#000" stroke-width="1.5"/>
<line x1="89.05" y1="759.50" x2="89.05" y2="764.10" stroke="#000" stroke-width="1.5"/>
<line x1="169.05" y1="759.50" x2="169.05" y2="764.10" stroke="#000" stroke-width="1.5"/>
<line x1="44.95" y1="599.70" x2="48.95" y2="599.70" stroke="#000" stroke-width="1.5"/>
<line x1="47.05" y1="626.33" x2="48.95" y2="626.33" stroke="#000" stroke-width="1.5"/>
<path transform="translate(24.53,603.20) scale(0.005205,-0.006348)" d="M763 0H583V1147Q518 1085 412.5 1023T223 930V1104Q373 1174.5 485.5 1275T644 1470H763Z" fill="#111" stroke="#111" stroke-width="0.2" vector-effect="non-scaling-stroke"/>
<text transform="translate(31.46,603.20) scale(0.82,1)" font-size="13" letter-spacing="1.220" word-spacing="0.000" fill="#111">.5</text>
<line x1="44.95" y1="652.97" x2="48.95" y2="652.97" stroke="#000" stroke-width="1.5"/>
<line x1="47.05" y1="679.60" x2="48.95" y2="679.60" stroke="#000" stroke-width="1.5"/>
<path transform="translate(24.53,656.83) scale(0.005205,-0.006348)" d="M763 0H583V1147Q518 1085 412.5 1023T223 930V1104Q373 1174.5 485.5 1275T644 1470H763Z" fill="#111" stroke="#111" stroke-width="0.2" vector-effect="non-scaling-stroke"/>
<text transform="translate(31.46,656.83) scale(0.82,1)" font-size="13" letter-spacing="1.220" word-spacing="0.000" fill="#111">.0</text>
<line x1="44.95" y1="706.23" x2="48.95" y2="706.23" stroke="#000" stroke-width="1.5"/>
<line x1="47.05" y1="732.87" x2="48.95" y2="732.87" stroke="#000" stroke-width="1.5"/>
<text transform="translate(24.53,710.47) scale(0.82,1)" font-size="13" letter-spacing="1.220" word-spacing="0.000" fill="#111">0.5</text>
<line x1="44.95" y1="759.50" x2="48.95" y2="759.50" stroke="#000" stroke-width="1.5"/>
<text transform="translate(24.53,764.10) scale(0.82,1)" font-size="13" letter-spacing="1.220" word-spacing="0.000" fill="#111">0.0</text>
<text transform="translate(105.00,597.80) scale(0.82,1)" font-size="17" letter-spacing="-0.192" word-spacing="0.000" style="stroke-width:0.3px" fill="#111">ICAM-</text>
<path transform="translate(143.71,597.80) scale(0.006807,-0.008301)" d="M763 0H583V1147Q518 1085 412.5 1023T223 930V1104Q373 1174.5 485.5 1275T644 1470H763Z" fill="#111" stroke="#111" stroke-width="0.3" vector-effect="non-scaling-stroke"/>
<line x1="73.00" y1="617.30" x2="104.80" y2="617.30" stroke="#000" stroke-width="2.2"/>
<path d="M88.90 611.30L88.90 608.80M88.90 611.30L91.28 610.53M88.90 611.30L90.37 613.32M88.90 611.30L87.43 613.32M88.90 611.30L86.52 610.53" stroke="#111" stroke-width="1.15" fill="none"/>
<text transform="translate(13.00,693.30) rotate(-90) scale(0.82,1)" font-size="17.5" letter-spacing="-1.613" style="stroke-width:0.3px" fill="#111">RQ</text>
<text transform="translate(80.00,779.20) scale(0.82,1)" font-size="13.5" letter-spacing="1.441" word-spacing="0.000" fill="#111">d2</text>
<path transform="translate(94.68,779.20) scale(0.005405,-0.006592)" d="M763 0H583V1147Q518 1085 412.5 1023T223 930V1104Q373 1174.5 485.5 1275T644 1470H763Z" fill="#111" stroke="#111" stroke-width="0.2" vector-effect="non-scaling-stroke"/>
<text transform="translate(160.20,779.20) scale(0.82,1)" font-size="13.5" letter-spacing="1.539" word-spacing="0.000" fill="#111">d80</text>
<text transform="translate(56.40,798.80) scale(0.86,1)" font-size="16.5" letter-spacing="1.891" word-spacing="-2.326" style="stroke-width:0.3px" fill="#111">days post infection</text>
<rect x="629.1" y="16.8" width="7.5" height="7.4" fill="#fff" stroke="#000" stroke-width="1.3"/>
<rect x="629" y="33.2" width="7.6" height="7.7" fill="#000"/>
<text transform="translate(646.90,40.90) scale(0.82,1)" font-size="13" letter-spacing="1.257" word-spacing="0.000" fill="#111">male</text>
<text transform="translate(646.40,23.80) scale(0.82,1)" font-size="13" letter-spacing="1.683" word-spacing="0.000" fill="#111">female</text>
</g>
</svg>
</body></html>
